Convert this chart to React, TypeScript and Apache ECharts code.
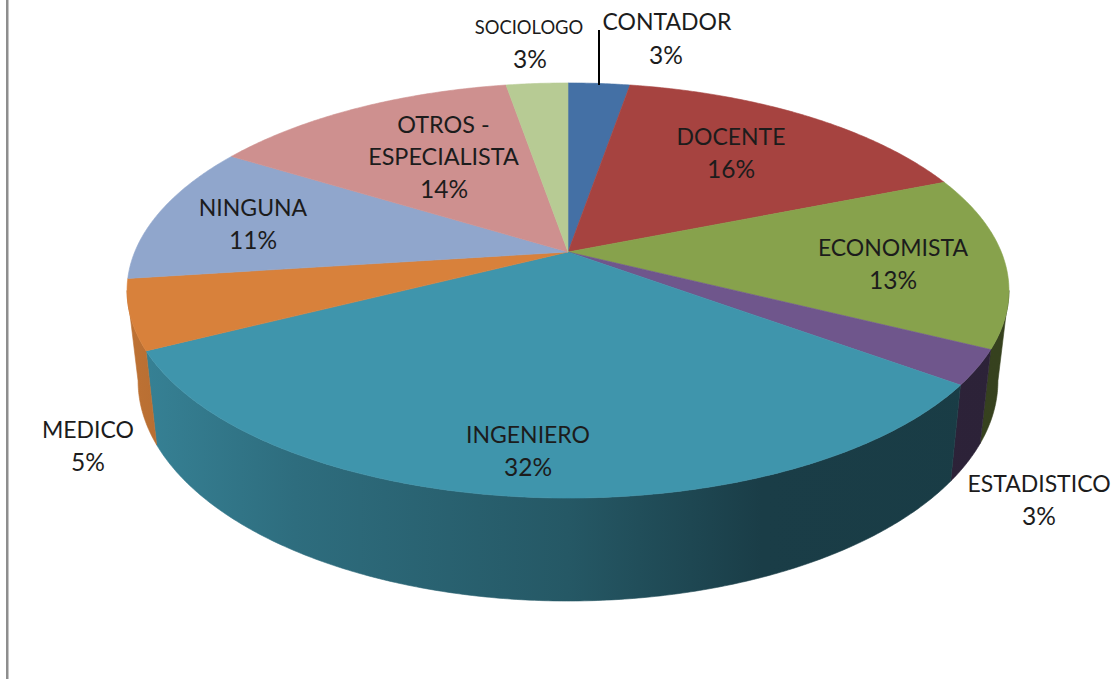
import React, { useEffect, useRef } from "react";
import * as echarts from "echarts";

const categories = ["CONTADOR", "DOCENTE", "ECONOMISTA", "ESTADISTICO", "INGENIERO", "MEDICO", "NINGUNA", "OTROS -\nESPECIALISTA", "SOCIOLOGO"];
const values = [2.7, 16.2, 13.4, 2.7, 32.4, 5.4, 10.8, 13.5, 2.7];
const colors = ["#4470A5", "#A64340", "#87A24C", "#6F568C", "#3F95AC", "#D8813B", "#90A6CC", "#CE908F", "#B7CB94"];

// label anchors: centre x, centre y of first line, font size
const labelAnchors: [number, number, number][] = [
  [667, 21, 23], [731, 136, 23], [893, 247, 23], [1039, 483, 23], [528, 434, 23],
  [88, 429, 23], [253, 207, 23], [443.5, 124, 23.4], [529, 27, 18.4],
];
const percentAnchors: [number, number][] = [
  [666, 54], [731, 168], [893, 279], [1039, 515], [528, 466], [88, 461], [253, 239], [444, 188], [530, 58],
];

// perspective geometry of the pie's top face
const CX = 568, CY = 252, A = 433.3, B = 200.4, K = 0.1855;
const SHRINK = 0.975, DEPTH0 = 88, DEPTH1 = 12.2;
const LINE_H = 32;
// the wall is only seen in front of the ellipse's widest points
const WALL_FROM = Math.acos(-K) / (2 * Math.PI);
const WALL_TO = 1 - WALL_FROM;

const total = values.reduce((a, b) => a + b, 0);
const startAt = values.map((_, i) => values.slice(0, i).reduce((a, b) => a + b, 0));

function project(frac: number): [number, number, number] {
  const t = frac * Math.PI * 2;
  const u = Math.sin(t), v = -Math.cos(t);
  const w = 1 - K * v;
  return [A * u / w, B * v / w, v / w];
}
const topPoint = (f: number): number[] => {
  const p = project(f);
  return [CX + p[0], CY + p[1]];
};
const bottomPoint = (f: number): number[] => {
  const p = project(f);
  return [CX + SHRINK * p[0], CY + p[1] + DEPTH0 + DEPTH1 * p[2]];
};
function arc(from: number, to: number, fn: (f: number) => number[]): number[][] {
  const n = Math.max(2, Math.ceil((to - from) * 720));
  const out: number[][] = [];
  for (let i = 0; i <= n; i++) out.push(fn(from + (to - from) * i / n));
  return out;
}

const shadeStops: [number, number][] = [[0, 0.88], [0.19, 0.73], [0.5, 0.59], [0.72, 0.41], [1, 0.4]];
function shade(hex: string, s: number) {
  const n = parseInt(hex.slice(1), 16);
  const c = [(n >> 16) & 255, (n >> 8) & 255, n & 255].map((x) => Math.round(x * s));
  return `rgb(${c[0]},${c[1]},${c[2]})`;
}

function renderWall(params: any, api: any) {
  const i = params.dataIndex;
  const from = Math.max(api.value(0) / total, WALL_FROM);
  const to = Math.min(api.value(1) / total, WALL_TO);
  if (to <= from) return { type: "group", children: [] };
  const fill = {
    type: "linear", x: 127, y: 0, x2: 1009, y2: 0, global: true,
    colorStops: shadeStops.map(([offset, s]) => ({ offset, color: shade(colors[i], s) })),
  };
  const top = arc(from, to, topPoint);
  const bottom = arc(from, to, bottomPoint).reverse();
  return {
    type: "polygon",
    shape: { points: top.concat(bottom) },
    style: { fill, stroke: fill, lineWidth: 0.6, lineJoin: "round" },
  };
}

function renderTop(params: any, api: any) {
  const i = params.dataIndex;
  const from = api.value(0) / total, to = api.value(1) / total;
  const pts = [[CX, CY]].concat(arc(from, to, topPoint));
  return {
    type: "polygon",
    shape: { points: pts },
    style: { fill: colors[i], stroke: colors[i], lineWidth: 0.6, lineJoin: "round" },
  };
}

function renderLabel(params: any, api: any) {
  const i = params.dataIndex;
  const [x, y, size] = labelAnchors[i];
  const [px, py] = percentAnchors[i];
  const font = '"Lato", "Noto Sans", sans-serif';
  const lines = categories[i].split("\n");
  const children: any[] = lines.map((line, j) => ({
    type: "text",
    style: { x, y: y + j * LINE_H, text: line, fill: "#1c1c1c", font: `${size}px ${font}`, align: "center", verticalAlign: "middle" },
  }));
  children.push({
    type: "text",
    style: { x: px, y: py, text: `${Math.round((api.value(0) / total) * 100)}%`, fill: "#1c1c1c", font: `24.5px ${font}`, align: "center", verticalAlign: "middle" },
  });
  return { type: "group", children };
}

export default function App() {
  const ref = useRef<HTMLDivElement>(null);
  useEffect(() => {
    const chart = echarts.init(ref.current!, null, { renderer: "svg" });
    const spans = values.map((v, i) => [startAt[i], startAt[i] + v]);
    chart.setOption({
      animation: false,
      backgroundColor: "#ffffff",
      graphic: [
        { type: "rect", z: 0, shape: { x: 6, y: 0, width: 2.5, height: 679 }, style: { fill: "#8e8e8e" } },
        { type: "line", z: 100, shape: { x1: 599, y1: 30, x2: 599, y2: 85 }, style: { stroke: "#000000", lineWidth: 2 } },
      ],
      series: [
        { type: "custom", coordinateSystem: "none", z: 1, data: spans, renderItem: renderWall, silent: true },
        { type: "custom", coordinateSystem: "none", z: 2, data: spans, renderItem: renderTop, silent: true },
        { type: "custom", coordinateSystem: "none", z: 3, data: values.map((v) => [v]), renderItem: renderLabel, silent: true },
      ],
    });
    return () => chart.dispose();
  }, []);
  return <div ref={ref} style={{ position: "fixed", left: 0, top: 0, width: 1120, height: 679 }} />;
}
